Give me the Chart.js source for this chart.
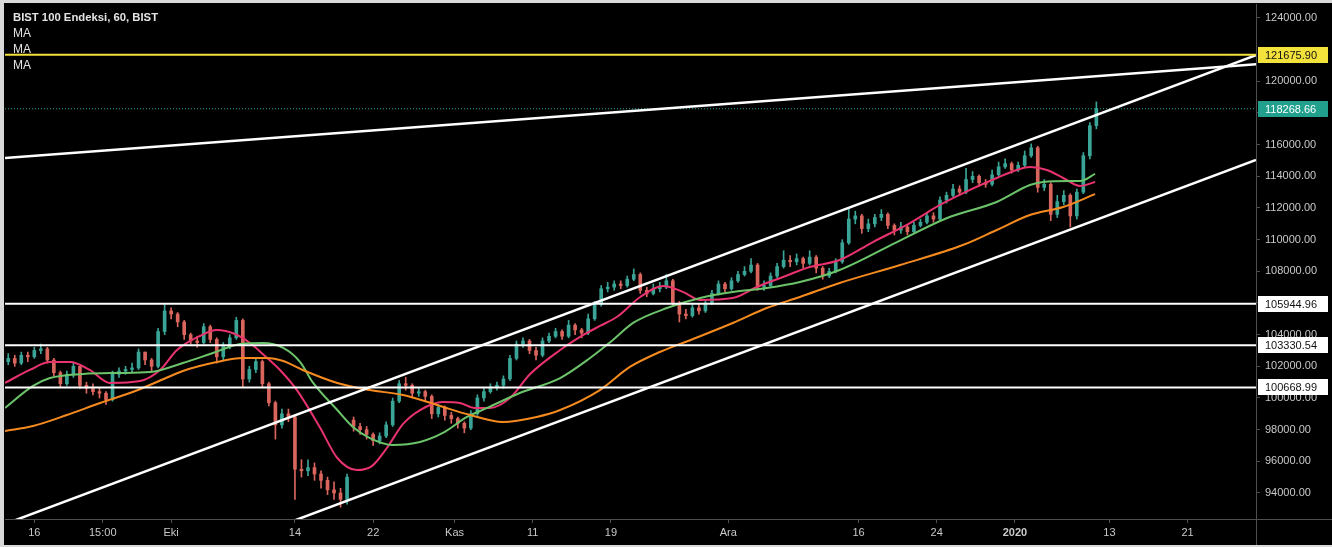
<!DOCTYPE html>
<html>
<head>
<meta charset="utf-8">
<script src="https://cdn.jsdelivr.net/npm/chart.js@4.4.1/dist/chart.umd.min.js"></script>
<style>
  html, body { margin: 0; padding: 0; background: #d9d9d9; }
  #wrap {
    position: absolute; left: 0; top: 0; width: 1332px; height: 547px;
    box-sizing: border-box; background: #000;
    border-left: 4px solid #d9d9d9; border-top: 3px solid #d9d9d9; border-bottom: 2px solid #d9d9d9;
  }
  #chart { position: absolute; left: 0; top: 0; }
  #legend {
    position: absolute; left: 9px; top: 6px;
    font-family: 'Liberation Sans', Arial, sans-serif; font-size: 11.3px; line-height: 16px;
    color: #e3e3e3; pointer-events: none;
  }
  #legend b { font-weight: bold; }
  #legend .ma { font-size: 12px; }
</style>
</head>
<body>
<div id="wrap">
  <canvas id="chart" width="1328" height="542"></canvas>
  <div id="legend">
    <div><b>BIST 100 Endeksi, 60, BIST</b></div>
    <div class="ma">MA</div>
    <div class="ma">MA</div>
    <div class="ma">MA</div>
  </div>
</div>
<script>
// half-session candles, slot index = position on the time axis
var opens = [
  102300,102500,102200,102700,102600,103000,103100,102400,101600,100900,101500,102000,
  100800,100600,100400,100300,99900,101500,101700,101800,101900,102900,102400,102000,
  104200,105500,105300,104800,104000,103600,103500,104500,103700,102600,103300,103800,
  104900,101200,101800,102300,100900,99700,98300,99000,98800,95500,95400,95600,
  95200,94800,94200,94000,93600,98600,98200,98000,97700,97300,97600,98300,
  99800,100900,100800,100300,100400,100100,99000,99400,98900,98700,98400,98100,
  99000,100000,100400,100700,100800,101200,102500,103400,103600,103000,102700,103600,
  103900,104200,103900,104600,104300,104100,105000,105900,106900,107000,107200,107100,
  107500,107800,106800,106600,106900,107000,107400,106000,105300,105200,105700,105500,
  106000,106600,107200,106900,107400,107800,108000,108400,107000,107100,107700,108300,
  108700,108600,108800,108500,108900,108200,107700,108000,108600,109800,111300,111500,
  110700,111000,111400,111600,110900,110600,110800,110500,110900,111100,111500,111300,
  112500,112800,113200,113000,113800,114000,113600,113500,114100,114600,114800,114400,
  114700,115300,115800,113300,113500,111600,112400,112800,111500,113000,115300,117200
];
var closes = [
  102500,102200,102700,102600,103000,103100,102400,101600,100900,101500,102000,100800,
  100600,100400,100300,99900,101500,101700,101800,101900,102900,102400,102000,104200,
  105500,105300,104800,104000,103600,103500,104500,103700,102600,103300,103800,104900,
  101200,101800,102300,100900,99700,98300,99000,98800,95500,95400,95600,95200,
  94800,94200,94000,93600,95000,98200,98000,97700,97300,97600,98300,99800,
  100900,100800,100300,100400,100100,99000,99400,98900,98700,98400,98100,99000,
  100000,100400,100700,100800,101200,102500,103400,103600,103000,102700,103600,103900,
  104200,103900,104600,104300,104100,105000,105900,106900,107000,107200,107100,107500,
  107800,106800,106600,106900,107000,107400,106000,105300,105200,105700,105500,106000,
  106600,107200,106900,107400,107800,108000,108400,107000,107100,107700,108300,108700,
  108600,108800,108500,108900,108200,107700,108000,108600,109800,111300,111500,110700,
  111000,111400,111600,110900,110600,110800,110500,110900,111100,111500,111300,112500,
  112800,113200,113000,113800,114000,113600,113500,114100,114600,114800,114400,114700,
  115300,115800,113300,113500,111600,112400,112800,111500,113000,115300,117200,118268.66
];
var highs = [
  102800,102700,102900,102900,103200,103400,103200,102500,101700,101700,102200,102000,
  101000,100900,100600,100400,101700,101900,102000,102200,103100,102900,102500,104400,
  105900,105700,105400,104900,104100,103900,104700,104600,103800,103500,104000,105100,
  105000,102000,102500,102400,101000,99800,99300,99300,98900,96100,96100,95900,
  95400,95000,94700,94300,95200,98800,98400,98200,97800,97800,98500,100000,
  101100,101300,100900,100600,100500,100200,99600,99500,99100,98800,98500,99200,
  100200,100600,100900,101000,101400,102700,103600,103800,103700,103200,103800,104100,
  104400,104300,104900,104700,104400,105300,106100,107100,107300,107400,107400,107700,
  108150,107900,107000,107200,107300,107800,107500,106100,105600,105900,105900,106200,
  106800,107400,107300,107600,108000,108300,108800,108500,107400,107900,108500,109300,
  109000,109100,108900,109300,109000,108300,108200,108800,110000,112000,111800,111600,
  111300,111600,111900,111700,111000,111100,110900,111100,111300,111700,111700,112700,
  113000,113500,113400,114500,114300,114100,113800,114400,114900,115100,114900,114900,
  115600,116050,115900,113800,113600,112800,113100,112900,113200,115500,117400,118700
];
var lows = [
  102100,102000,102100,102300,102500,102800,102200,101400,100700,100800,101300,100600,
  100300,100200,100000,99600,99800,101300,101500,101600,101800,102100,101700,101900,
  104000,105000,104500,103700,103400,103200,103400,103500,102200,102400,103100,103700,
  100700,101000,101600,100700,99500,97400,98100,98500,93600,95000,95100,94800,
  94300,93900,93600,93100,93300,97900,97700,97400,97000,97100,97500,98200,
  99700,100500,100000,100100,99800,98700,98800,98600,98400,98100,97800,98000,
  98900,99800,100300,100500,100600,101100,102400,103200,102800,102400,102600,103500,
  103800,103700,103800,104000,103800,104000,104900,105800,106700,106800,106900,107000,
  107400,106600,106400,106500,106700,106900,105800,104800,105000,105100,105300,105400,
  105900,106500,106700,106800,107300,107700,107900,106800,106800,107000,107600,108200,
  108300,108400,108200,108400,107900,107500,107600,107900,108500,109700,111000,110400,
  110500,110800,111200,110700,110300,110400,110300,110400,110800,111000,111100,111200,
  112300,112700,112800,112900,113600,113400,113300,113400,114000,114500,114200,114300,
  114600,115200,113000,113100,111200,111400,112200,110800,111300,112900,115100,117000
];

// moving averages: [slot, value]
var maPink = [
  [-0.5,100950],[3.3,101770],[6.4,102270],[9.5,102270],[12.5,101770],[15.6,100950],[20.2,101070],
  [23.3,101770],[25.9,103030],[29.4,103915],[32,104290],[34.8,104040],[37.1,103470],[39.4,102650],
  [41.7,101770],[44.3,100500],[47.8,98170],[50.5,96210],[53.5,95450],[55.8,95700],[58.1,96840],
  [60.6,98360],[63.2,99240],[66.7,99750],[69.3,99690],[71.6,99370],[73.9,99370],[77,100000],
  [80.1,101515],[84.7,103030],[87.7,103850],[90.8,104550],[93.4,105115],[97,106380],[100.5,107070],
  [103.6,106690],[106.2,106190],[111.2,106315],[114.9,107010],[118.9,107640],[123,108270],
  [127.6,108715],[132.7,109850],[138.4,111050],[143,112190],[147.6,113140],[151.7,113895],
  [154.8,114400],[156.8,114590],[159.4,114400],[161.9,113895],[164.5,113390],[166.8,113640]
];
var maGreen = [
  [-0.5,99370],[3.8,100760],[6.4,101260],[11.5,101515],[16.7,101580],[21.8,101640],[26.8,102210],
  [31.4,102840],[35.6,103410],[39.1,103470],[42.2,103160],[44.8,102270],[46.8,100950],[50.5,99240],
  [52.9,98170],[55.5,97470],[59,97030],[63.2,97220],[66.7,97790],[70.4,98800],[73.5,99370],
  [78.5,100315],[84.7,101260],[89.3,102525],[92.8,103660],[95.9,104740],[101.1,105680],[106.2,106315],
  [111.2,106690],[116.4,106945],[121.5,107325],[127.6,108085],[136.4,109850],[144.1,111370],
  [151.7,112380],[156.8,113450],[158.8,113640],[162.9,113705],[164.5,113705],[166.8,114150]
];
var maOrange = [
  [-0.5,97915],[3.8,98230],[9,98925],[14.1,99685],[19.1,100380],[22.8,101010],[26.8,101705],
  [32,102270],[36,102525],[39.7,102525],[42.2,102335],[45.2,101770],[50.5,100950],[55.5,100500],
  [60.6,100190],[65.8,99555],[70.9,98925],[75.9,98485],[81.1,98800],[84.7,99240],[90.8,100500],
  [95.4,101960],[100,102905],[105.1,103725],[111.2,104735],[116.4,105680],[121.5,106380],
  [127.6,107265],[136.9,108400],[146.5,109660],[151.7,110610],[156.8,111560],[161.9,112060],[166.8,112880]
];

// drawn trend lines: [slot, value] end points
var topLine = [[-0.5,115160],[191.5,121080]];
var channelUpper = [[-0.5,92040],[191.5,121660]];
var channelLower = [[-0.5,85410],[191.5,115030]];

var yellowLevel = 121675.90;
var whiteLevels = [105944.96, 103330.54, 100668.99];
var lastPrice = 118268.66;

var yTicks = [94000,96000,98000,100000,102000,104000,106000,108000,110000,112000,114000,116000,118000,120000,124000];
var xTickSlots = [4,14.5,25,44,56,68.5,80.5,92.5,110.5,130.5,142.5,154.5,169,181];
var xTickText = ['16','15:00','Eki','14','22','Kas','11','19','Ara','16','24','2020','13','21'];

var FONT = "'Liberation Sans', Arial, sans-serif";
var UP = '#3aa596';
var DOWN = '#d9655d';
var TEXT = '#c9c9c9';
var AXIS = '#4f4f4f';

function pts(arr) {
  return arr.map(function (p) { return {x: p[0], y: p[1]}; });
}

function lineSet(arr, color, width, order, dash) {
  return {
    type: 'line',
    data: pts(arr),
    borderColor: color,
    borderWidth: width,
    borderDash: dash || [],
    pointRadius: 0,
    fill: false,
    cubicInterpolationMode: 'monotone',
    order: order
  };
}

var candleColor = closes.map(function (c, i) { return c >= opens[i] ? UP : DOWN; });
var wickData = closes.map(function (c, i) {
  return {x: i, y: [Math.min(lows[i], opens[i], c), Math.max(highs[i], opens[i], c)]};
});
var bodyData = closes.map(function (c, i) { return {x: i, y: [opens[i], c]}; });

var datasets = [
  {type: 'bar', data: wickData, backgroundColor: candleColor, barThickness: 1, grouped: false, order: 5},
  {type: 'bar', data: bodyData, backgroundColor: candleColor, barThickness: 3, minBarLength: 1, grouped: false, order: 4},
  lineSet(maOrange, '#f58b1f', 2, 3),
  lineSet(maGreen, '#6cc46a', 2, 3),
  lineSet(maPink, '#e8336f', 2, 3),
  lineSet(topLine, '#ffffff', 2.5, 1),
  lineSet(channelUpper, '#ffffff', 2.5, 1),
  lineSet(channelLower, '#ffffff', 2.5, 1),
  lineSet([[-0.5, lastPrice], [191.5, lastPrice]], '#26a69a', 1, 1, [1, 2])
];
whiteLevels.forEach(function (v) {
  datasets.push(lineSet([[-0.5, v], [191.5, v]], '#ffffff', 2, 1));
});
datasets.push(lineSet([[-0.5, yellowLevel], [191.5, yellowLevel]], '#f3e23c', 2, 0));

// price tags on the right axis + axis lines through the corner
var tagPlugin = {
  id: 'tags',
  afterDraw: function (chart) {
    var c = chart.ctx, ys = chart.scales.y, area = chart.chartArea;
    c.save();
    c.strokeStyle = AXIS;
    c.lineWidth = 1;
    c.beginPath();
    c.moveTo(ys.left + 0.5, area.bottom);
    c.lineTo(ys.left + 0.5, chart.height);
    c.moveTo(ys.left, area.bottom + 0.5);
    c.lineTo(chart.width, area.bottom + 0.5);
    c.stroke();

    var tags = [{v: yellowLevel, bg: '#f3e23c', fg: '#111'}, {v: lastPrice, bg: '#22a08e', fg: '#fff'}];
    whiteLevels.forEach(function (v) { tags.push({v: v, bg: '#ffffff', fg: '#111'}); });
    c.font = '11px ' + FONT;
    c.textBaseline = 'middle';
    tags.forEach(function (t) {
      var py = Math.round(ys.getPixelForValue(t.v));
      c.fillStyle = t.bg;
      c.fillRect(ys.left + 2, py - 8, 70, 16);
      c.fillStyle = t.fg;
      c.fillText(t.v.toFixed(2), ys.left + 9, py + 1);
    });
    c.restore();
  }
};

new Chart(document.getElementById('chart'), {
  type: 'bar',
  data: {datasets: datasets},
  options: {
    responsive: false,
    animation: false,
    events: [],
    layout: {padding: {left: 1, top: 1, right: 0, bottom: 0}},
    plugins: {legend: {display: false}, tooltip: {enabled: false}},
    scales: {
      x: {
        type: 'linear',
        min: -0.5,
        max: 191.5,
        offset: false,
        afterBuildTicks: function (s) { s.ticks = xTickSlots.map(function (v) { return {value: v}; }); },
        afterFit: function (s) { s.height = 26; s.paddingLeft = 0; s.paddingRight = 0; },
        grid: {offset: false, drawOnChartArea: false, drawTicks: true, tickLength: 4, color: AXIS},
        border: {color: AXIS},
        ticks: {
          autoSkip: false,
          maxRotation: 0,
          padding: 3,
          color: TEXT,
          font: function (ctx) {
            return {family: FONT, size: 11, weight: xTickText[ctx.index] === '2020' ? 'bold' : 'normal'};
          },
          callback: function (v, i) { return xTickText[i]; }
        }
      },
      y: {
        type: 'linear',
        position: 'right',
        min: 92357,
        max: 124884,
        afterBuildTicks: function (s) { s.ticks = yTicks.map(function (v) { return {value: v}; }); },
        afterFit: function (s) { s.width = 76; s.paddingTop = 0; s.paddingBottom = 0; },
        grid: {drawOnChartArea: false, drawTicks: true, tickLength: 4, color: AXIS},
        border: {color: AXIS},
        ticks: {
          color: TEXT,
          padding: 5,
          font: {family: FONT, size: 11},
          callback: function (v) { return Number(v).toFixed(2); }
        }
      }
    }
  },
  plugins: [tagPlugin]
});
</script>
</body>
</html>
